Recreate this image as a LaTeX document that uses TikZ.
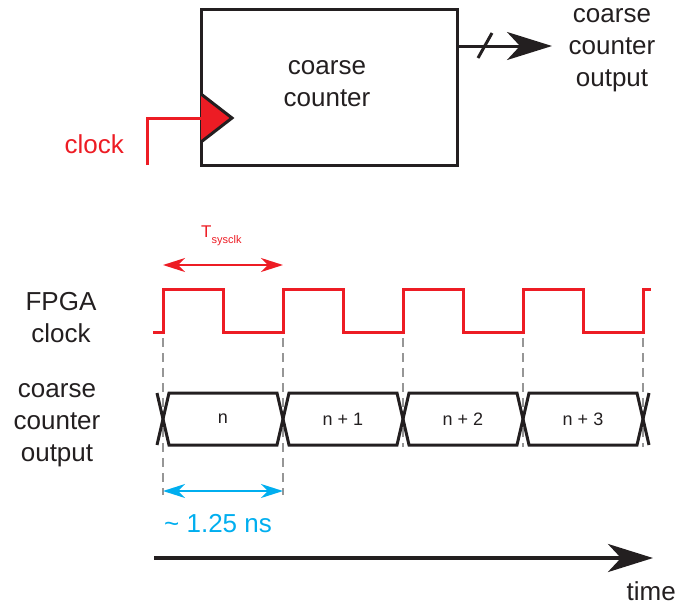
\documentclass[tikz,border=0pt]{standalone}
\usepackage{fontspec}
\setmainfont{Liberation Sans}
\usetikzlibrary{arrows.meta}
\definecolor{sigred}{RGB}{237,28,36}
\definecolor{tmblue}{RGB}{0,174,239}
\definecolor{ink}{RGB}{35,31,32}
\definecolor{guide}{RGB}{150,150,150}
\newcommand{\biglbl}{\fontsize{26}{32}\selectfont}
\newcommand{\vallbl}{\fontsize{18}{22}\selectfont}
\tikzset{
  wire/.style={line width=3pt, draw=ink, line join=miter},
  clk/.style={line width=3pt, draw=sigred},
  bigtip/.style={-{Stealth[length=45pt, width=28pt, inset=13pt]}},
  span/.style={{Stealth[length=22pt, width=14pt, inset=7pt]}-{Stealth[length=22pt, width=14pt, inset=7pt]}, line width=2pt},
  guideline/.style={draw=guide, line width=1.3pt, dash pattern=on 9pt off 6pt},
  lbl/.style={font=\biglbl, text=ink, align=center, inner sep=0pt},
  val/.style={font=\vallbl, text=ink, inner sep=0pt},
}

\begin{document}
\begin{tikzpicture}[x=1pt, y=-1pt]
  \useasboundingbox (0,0) rectangle (677,606);
  % counter block
  \node[wire, minimum width=256pt, minimum height=156pt, inner sep=0pt] (ctr) at (329,87) {};
  \node[lbl] (ctrtxt) at (327,83.5) {coarse\\counter};
  % clock pin
  \filldraw[wire, fill=sigred] (201,94) -- (232,118) -- (201,142);
  \coordinate (clkpin) at (201,118);
  \coordinate (clkfoot) at (147,165);
  \draw[clk] (clkfoot) |- (clkpin);
  \node[lbl, text=sigred, anchor=base east] (clklbl) at (124,153) {clock};
  % output bus
  \coordinate (outtip) at (552,46);
  \draw[wire, bigtip] (ctr.east |- outtip) -- (outtip);
  \draw[wire] (478,58) -- (492,33);
  \node[lbl] (outlbl) at (612,50.5) {coarse\\counter\\output};
  % row labels
  \node[lbl] (fpgalbl) at (61,318) {FPGA\\clock};
  \node[lbl] (buslbl) at (57,425) {coarse\\counter\\output};
  % period marker
  \coordinate (tpa) at (163,265);
  \coordinate (tpb) at (283,265);
  \draw[span, sigred] (tpa) -- (tpb);
  \node[anchor=base west, inner sep=0pt, text=sigred] (tlbl) at (201,237)
    {\fontsize{17}{20}\selectfont T\fontsize{11}{13}\selectfont\raisebox{-6pt}{sysclk}};
  % guides
  \foreach \x in {403,523,643}
    \draw[guideline] (\x,338) -- (\x,447);
  \foreach \x in {163,283}
    \draw[guideline] (\x,338) -- (\x,495);
  % FPGA clock waveform
  \draw[clk] (153,332) -- (163,332)
    \foreach \k in {0,...,3} { -- ++(0,-43) -- ++(60,0) -- ++(0,43) -- ++(60,0) }
    -- ++(0,-43) -- ++(8,0);
  % counter bus
  \draw[wire] (157,393) -- (163,419) -- (157,445);
  \draw[wire] (649,393) -- (643,419) -- (649,445);
  \foreach \k/\v in {0/n, 1/n + 1, 2/n + 2, 3/n + 3} {
    \pgfmathsetmacro\xa{163+120*\k}
    \draw[wire] (\xa,419) -- (\xa+6,393) -- (\xa+114,393) -- (\xa+120,419)
      -- (\xa+114,445) -- (\xa+6,445) -- cycle;
    \node[val] (seg\k) at (\xa+60,419) {\v};
  }
  % clock period
  \coordinate (nsa) at (163,491);
  \coordinate (nsb) at (283,491);
  \draw[span, tmblue] (nsa) -- (nsb);
  \node[lbl, text=tmblue, anchor=base west] (nslbl) at (164,532) {\textasciitilde{} 1.25 ns};
  % time axis
  \coordinate (t0) at (154,558);
  \coordinate (t1) at (653,558);
  \draw[wire, line width=4pt, bigtip] (t0) -- (t1);
  \node[lbl, anchor=base east] (timelbl) at (676,600) {time};
\end{tikzpicture}
\end{document}
